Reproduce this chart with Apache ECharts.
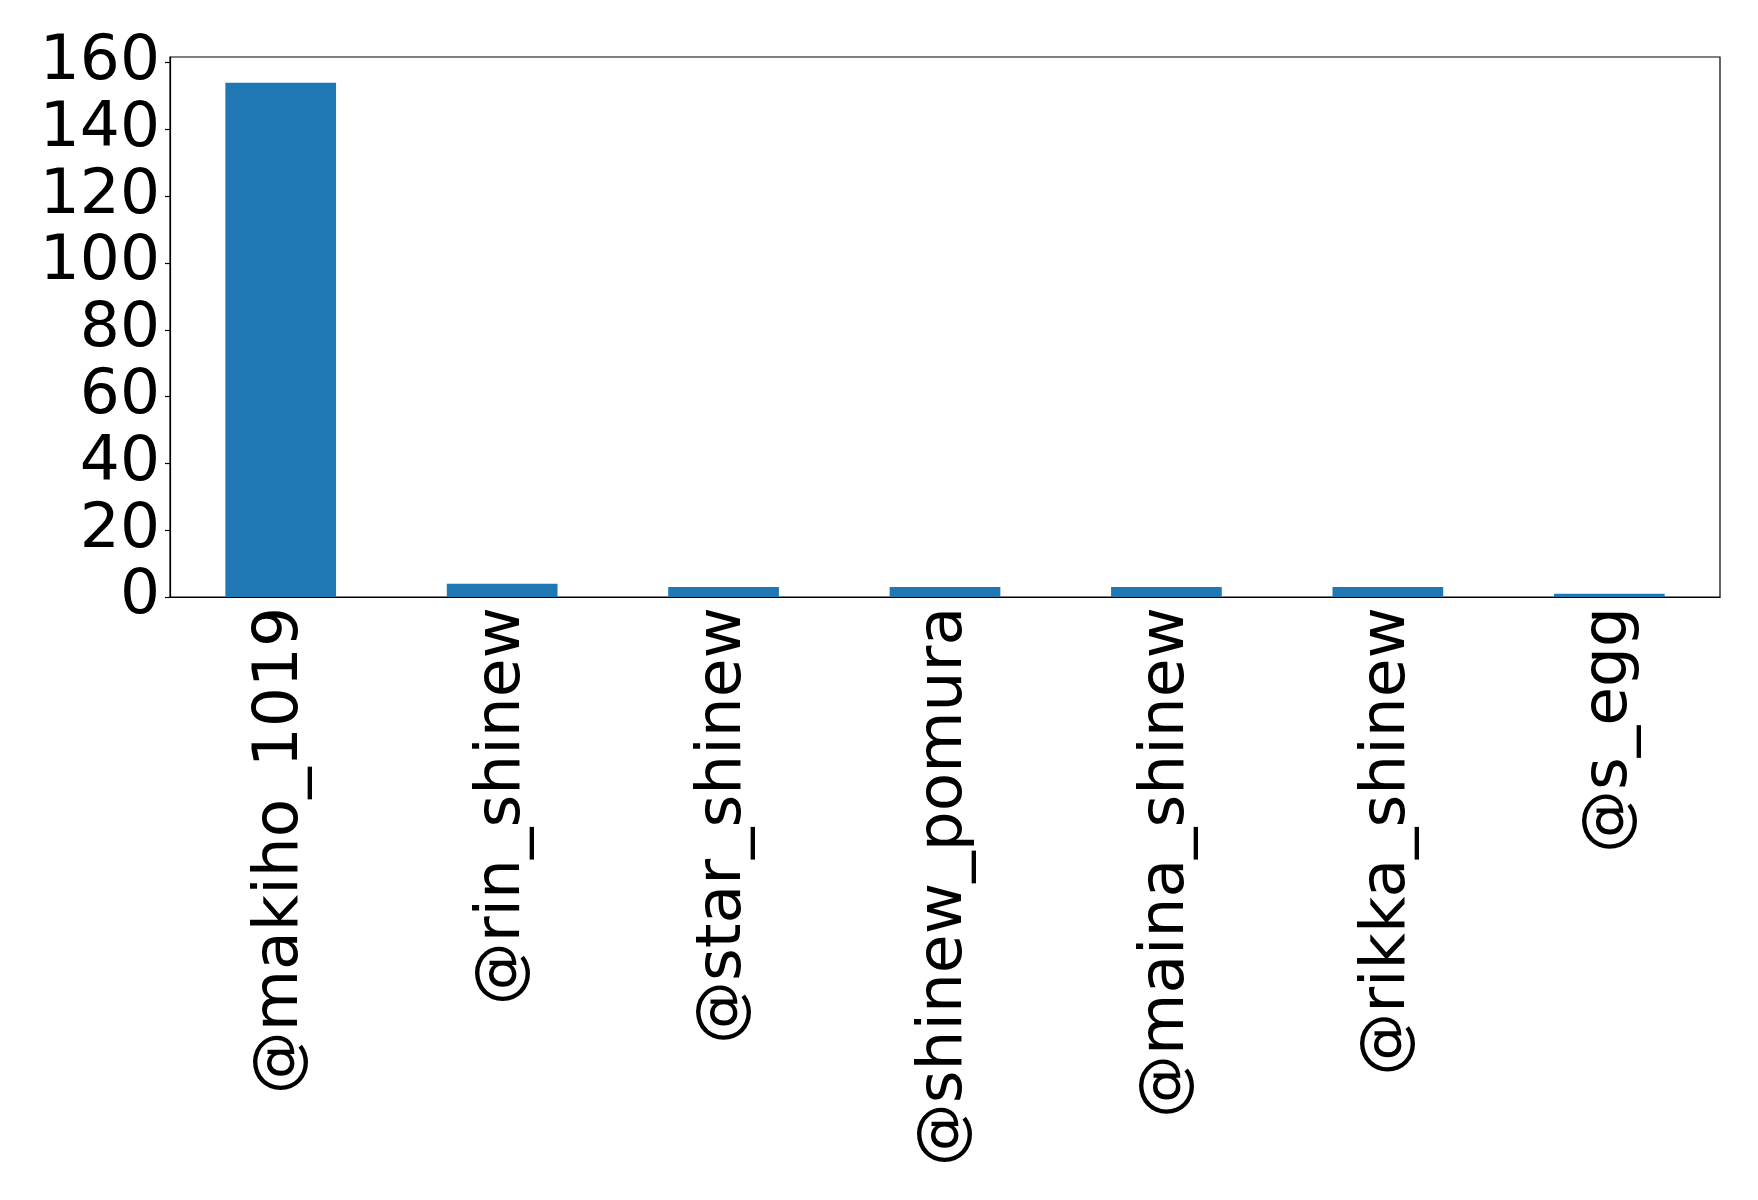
<!DOCTYPE html>
<html>
<head>
  <meta charset="UTF-8">
  <title>Bar chart</title>
  <script src="https://cdn.jsdelivr.net/npm/echarts@6/dist/echarts.min.js"></script>
  <style>
    html, body { margin: 0; padding: 0; background: #fff; }
    #chart { width: 1758px; height: 1200px; }
  </style>
</head>
<body>
  <div id="chart"></div>
  <script>
    // data
    const accounts = ['@makiho_1019', '@rin_shinew', '@star_shinew', '@shinew_pomura', '@maina_shinew', '@rikka_shinew', '@s_egg'];
    const counts = [154, 4, 3, 3, 3, 3, 1];
    const yTicks = [0, 20, 40, 60, 80, 100, 120, 140, 160];

    const font = 'DejaVu Sans';
    const chart = echarts.init(document.getElementById('chart'));
    chart.setOption({
      animation: false,
      grid: {
        left: 170, right: 38, top: 57, bottom: 603,
        show: true, borderColor: '#000', borderWidth: 1.2, backgroundColor: '#fff'
      },
      xAxis: {
        type: 'category',
        data: accounts,
        axisLine: { lineStyle: { color: '#000', width: 1.2 } },
        axisTick: { alignWithLabel: true, length: 5, lineStyle: { color: '#000', width: 1.2 } },
        axisLabel: { rotate: 90, margin: 10, fontSize: 63, color: '#000', fontFamily: font },
        splitLine: { show: false }
      },
      yAxis: {
        type: 'value',
        min: 0,
        max: 161.7,
        interval: 20,
        axisLine: { show: true, lineStyle: { color: '#000', width: 1.2 } },
        axisTick: { show: true, length: 5, customValues: yTicks, lineStyle: { color: '#000', width: 1.2 } },
        axisLabel: {
          margin: 10, fontSize: 63, color: '#000', fontFamily: font,
          customValues: yTicks, padding: [20, 0, 0, 0]
        },
        splitLine: { show: false }
      },
      series: [{
        type: 'bar',
        data: counts,
        barWidth: '50%',
        itemStyle: { color: '#1f77b4' }
      }]
    });
  </script>
</body>
</html>
